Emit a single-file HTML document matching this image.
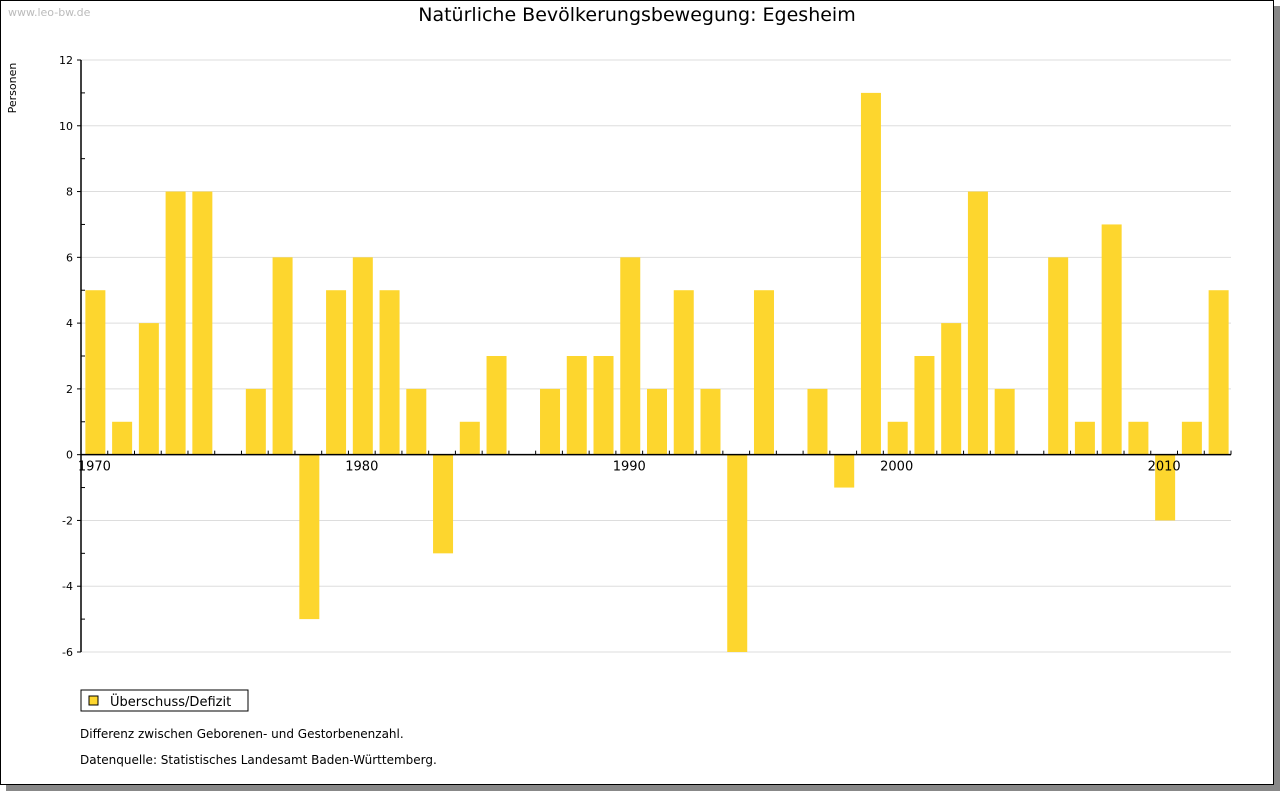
<!DOCTYPE html>
<html><head><meta charset="utf-8"><style>
body{margin:0;width:1280px;height:791px;background:#fff;font-family:"DejaVu Sans","Liberation Sans",sans-serif;overflow:hidden}
#frame{position:absolute;left:0;top:0;width:1272px;height:783px;border:1px solid #000;box-shadow:6px 6px 0 #888;background:#fff}
</style></head><body>
<div id="frame"></div>
<svg id="c" width="1280" height="791" style="position:absolute;left:0;top:0">
<text x="8" y="16" font-size="11" fill="#bbb">www.leo-bw.de</text>
<text x="637" y="21" font-size="19" text-anchor="middle">Natürliche Bevölkerungsbewegung: Egesheim</text>
<text transform="translate(16,88) rotate(-90)" font-size="11" text-anchor="middle">Personen</text>
<g id="grid"></g><g id="bars"></g><g id="axes"></g>
<rect x="81" y="690" width="167" height="21" fill="#fff" stroke="#000"/>
<rect x="89" y="696" width="9" height="9" fill="#fdd62e" stroke="#000"/>
<text x="110" y="706" font-size="13">Überschuss/Defizit</text>
<text x="80" y="738" font-size="12">Differenz zwischen Geborenen- und Gestorbenenzahl.</text>
<text x="80" y="764" font-size="12">Datenquelle: Statistisches Landesamt Baden-Württemberg.</text>
</svg>
<script>
const years=[1970,1971,1972,1973,1974,1975,1976,1977,1978,1979,1980,1981,1982,1983,1984,1985,1986,1987,1988,1989,1990,1991,1992,1993,1994,1995,1996,1997,1998,1999,2000,2001,2002,2003,2004,2005,2006,2007,2008,2009,2010,2011,2012];
const values=[5,1,4,8,8,0,2,6,-5,5,6,5,2,-3,1,3,0,2,3,3,6,2,5,2,-6,5,0,2,-1,11,1,3,4,8,2,0,6,1,7,1,-2,1,5];
const yTicks=[-6,-4,-2,0,2,4,6,8,10,12];
const xLabels=[1970,1980,1990,2000,2010];
const NS="http://www.w3.org/2000/svg";
const X0=81,X1=1231,Y0=60,Y1=652,ymin=-6,ymax=12;
const step=(X1-X0)/years.length;
const y=v=>Y0+(ymax-v)/(ymax-ymin)*(Y1-Y0);
const xc=i=>X0+step*(i+0.5);
function mk(t,a,p){const e=document.createElementNS(NS,t);for(const k in a)e.setAttribute(k,a[k]);p.appendChild(e);return e;}
const G=document.getElementById('grid'),B=document.getElementById('bars'),A=document.getElementById('axes');
yTicks.forEach(v=>{
 const l=mk('line',{x1:X0,x2:X1,y1:y(v),y2:y(v),stroke:'#ddd'},G);
 
 
 const t=mk('line',{x1:X0-4,x2:X0,y1:y(v),y2:y(v),stroke:'#000'},A);
 
 
 const tx=mk('text',{x:X0-8,y:y(v)+4,'font-size':11,'text-anchor':'end'},A);tx.textContent=v;
 
 
});
for(let v=ymin+1;v<ymax;v+=2){mk('line',{x1:X0,x2:X0+4,y1:y(v),y2:y(v),stroke:'#000'},A);}
values.forEach((v,i)=>{
 const r=mk('rect',{x:xc(i)-9,y:Math.min(y(v),y(0)),width:20,height:Math.abs(y(v)-y(0)),fill:'#fdd62e'},B);
 
 
});
mk('line',{x1:X0,x2:X0,y1:Y0,y2:Y1,stroke:'#000','stroke-width':1.5},A);
mk('line',{x1:X0,x2:X1,y1:y(0),y2:y(0),stroke:'#000','stroke-width':1.5},A);
for(let k=1;k<=years.length;k++){mk('line',{x1:X0+k*step,x2:X0+k*step,y1:y(0)-4,y2:y(0),stroke:'#000'},A);}
xLabels.forEach(yr=>{
 const i=years.indexOf(yr);
 const t=mk('text',{x:xc(i),y:y(0)+16,'font-size':13,'text-anchor':'middle'},A);t.textContent=yr;
 
 
});
</script>
</body></html>
